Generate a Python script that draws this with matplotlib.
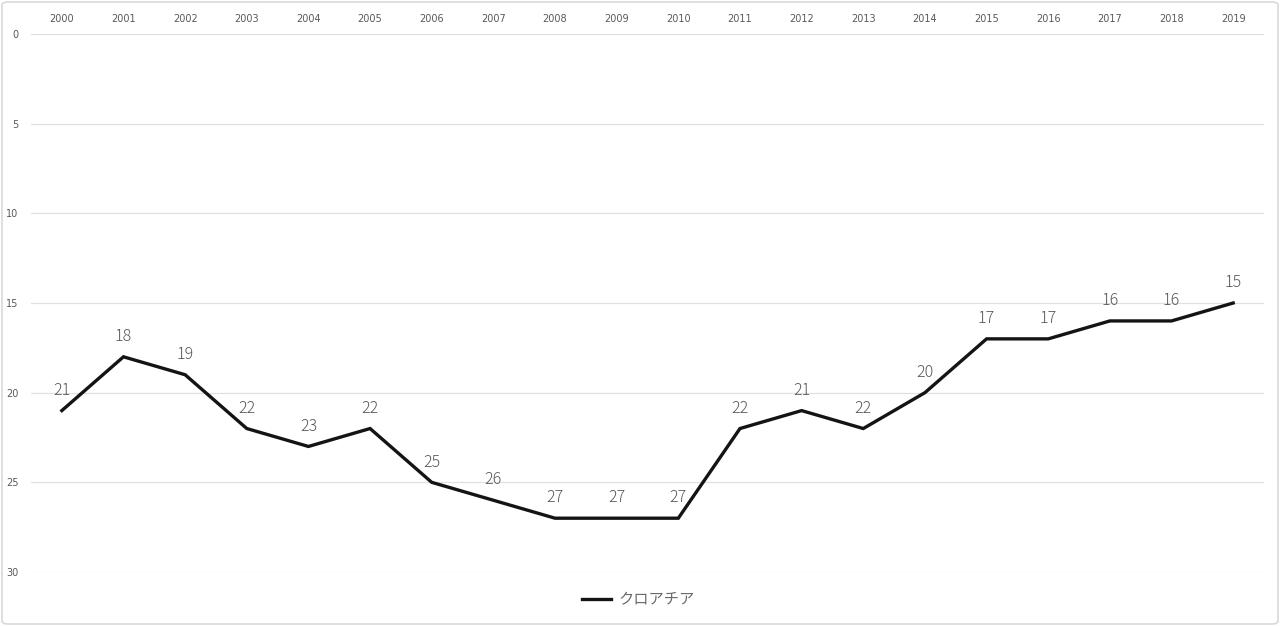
import numpy as np
import matplotlib.pyplot as plt
from matplotlib.patches import FancyBboxPatch

plt.rcParams['font.family'] = ['Noto Sans CJK JP', 'DejaVu Sans']

#==========================================================================
# Data
#==========================================================================
years = [str(y) for y in range(2000, 2020)]
ranks = [21, 18, 19, 22, 23, 22, 25, 26, 27, 27, 27, 22, 21, 22, 20, 17, 17, 16, 16, 15]
series_name = 'クロアチア'
y_ticks = [0, 5, 10, 15, 20, 25, 30]

#==========================================================================
# Plot
#==========================================================================
W, H = 1280, 626
fig = plt.figure(figsize=(W / 100, H / 100), dpi=100)
fig.patch.set_facecolor('white')

# light frame round the whole chart
fig.patches.append(FancyBboxPatch((2 / W, 2 / H), 1 - 4 / W, 1 - 4 / H,
                                  boxstyle='round,pad=0,rounding_size=0.005',
                                  transform=fig.transFigure, fill=False,
                                  edgecolor='#d9d9d9', linewidth=1.2))

left, right, top, bottom = 31, 1264, 34, 572
ax = fig.add_axes([left / W, 1 - bottom / H, (right - left) / W, (bottom - top) / H])

x = np.arange(len(years))
ax.plot(x, ranks, color='#141414', linewidth=2.4, solid_joinstyle='miter', label=series_name)

for xi, r in zip(x, ranks):
    ax.annotate(str(r), (xi, r), xytext=(0, 8.5), textcoords='offset points',
                ha='center', va='bottom', fontsize=11.5, color='#585858',
                family=['Noto Sans CJK JP'], fontweight='light')

ax.set_xlim(-0.5, len(years) - 0.5)
ax.set_ylim(30, 0)
ax.set_yticks(y_ticks)
ax.set_yticklabels([str(t) for t in y_ticks], family=['DejaVu Sans'])
ax.set_xticks(x)
ax.set_xticklabels(years, family=['DejaVu Sans'])
ax.xaxis.tick_top()
ax.tick_params(axis='both', length=0, labelsize=7, colors='#595959')
ax.tick_params(axis='x', pad=7)
ax.tick_params(axis='y', pad=9)
ax.grid(axis='y', color='#e0e0e0', linewidth=0.9)
ax.set_axisbelow(True)
for s in ax.spines.values():
    s.set_visible(False)

leg = fig.legend(loc='center', bbox_to_anchor=(638 / W, 1 - 600 / H), frameon=False,
                 fontsize=11, handlelength=1.9, handletextpad=0.5)
for t in leg.get_texts():
    t.set_color('#6a6a6a')

fig.savefig('out.png', dpi=100, facecolor='white')
